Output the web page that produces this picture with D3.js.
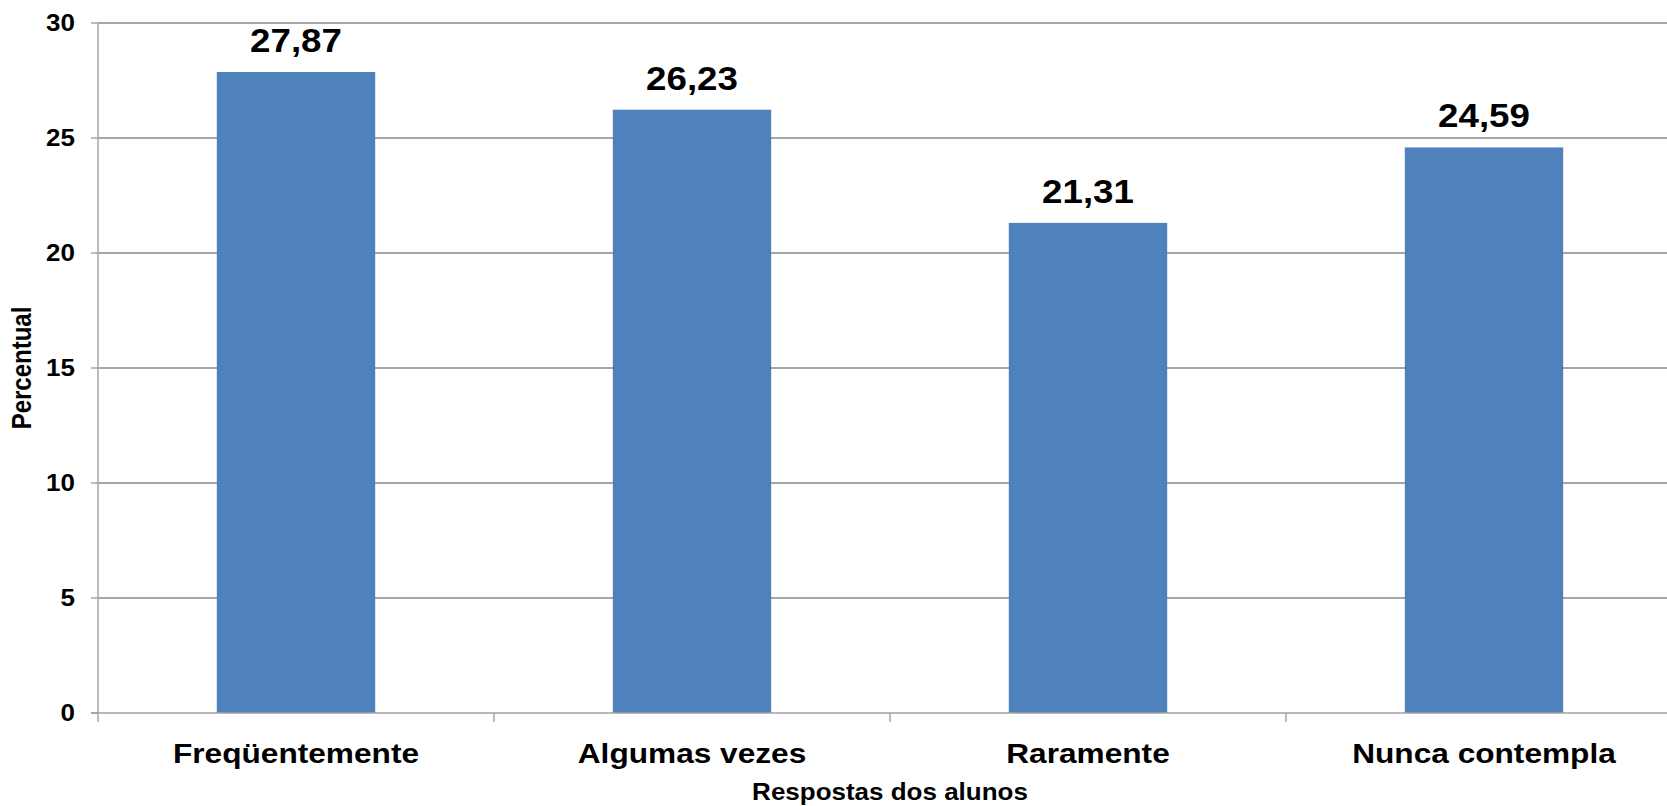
<!DOCTYPE html>
<html>
<head>
<meta charset="utf-8">
<script src="https://cdn.jsdelivr.net/npm/d3@7"></script>
<style>
  html, body { margin: 0; padding: 0; background: #fff; }
  svg { display: block; }
  text { font-family: "Liberation Sans", Arial, sans-serif; font-weight: bold; fill: #000; }
</style>
</head>
<body>
<svg id="chart" width="1667" height="806"></svg>
<script>
const categories = ["Freqüentemente", "Algumas vezes", "Raramente", "Nunca contempla"];
const values = [27.87, 26.23, 21.31, 24.59];
const yTicks = [0, 5, 10, 15, 20, 25, 30];
const yTitle = "Percentual";
const xTitle = "Respostas dos alunos";

(function () {
const pLeft = 98, pTop = 23, pBottom = 713, pRight = 1682;
const sx = 1.13; // horizontal stretch of text seen in reference

const svg = d3.select("#chart");
const x = d3.scaleBand().domain(categories).range([pLeft, pRight]).paddingInner(0.6).paddingOuter(0.3);
const y = d3.scaleLinear().domain([0, 30]).range([pBottom, pTop]);
const locale = d3.formatLocale({decimal: ",", thousands: ".", grouping: [3], currency: ["", ""]});
const fmt = locale.format(".2f");

// gridlines
svg.append("g").selectAll("line").data(yTicks.filter(d => d > 0)).join("line")
  .attr("x1", pLeft).attr("x2", pRight)
  .attr("y1", d => y(d)).attr("y2", d => y(d))
  .attr("stroke", "#8a8a8a").attr("stroke-width", 1.4);

// bars
svg.append("g").selectAll("rect").data(values).join("rect")
  .attr("x", (d, i) => x(categories[i]))
  .attr("width", x.bandwidth())
  .attr("y", d => y(d))
  .attr("height", d => y(0) - y(d))
  .attr("fill", "#4f81bd");

// y axis line & ticks
svg.append("line").attr("x1", pLeft).attr("x2", pLeft).attr("y1", pTop).attr("y2", pBottom)
  .attr("stroke", "#a0a0a0").attr("stroke-width", 1.4);
svg.append("g").selectAll("line").data(yTicks).join("line")
  .attr("x1", pLeft - 7).attr("x2", pLeft)
  .attr("y1", d => y(d)).attr("y2", d => y(d))
  .attr("stroke", "#a0a0a0").attr("stroke-width", 1.4);

// x axis line
svg.append("line").attr("x1", pLeft - 7).attr("x2", pRight).attr("y1", pBottom).attr("y2", pBottom)
  .attr("stroke", "#a0a0a0").attr("stroke-width", 1.4);
// x ticks at band boundaries
const step = x.step();
const bounds = categories.map(c => x(c) - (step - x.bandwidth()) / 2).concat([pRight]);
svg.append("g").selectAll("line").data(bounds).join("line")
  .attr("x1", d => d).attr("x2", d => d)
  .attr("y1", pBottom).attr("y2", pBottom + 9)
  .attr("stroke", "#a0a0a0").attr("stroke-width", 1.4);

// y tick labels
svg.append("g").selectAll("text").data(yTicks).join("text")
  .attr("transform", d => `translate(75,${y(d) + 8}) scale(${sx},1)`)
  .attr("text-anchor", "end")
  .style("font-size", "23px")
  .text(d => d);

// category labels
svg.append("g").selectAll("text").data(categories).join("text")
  .attr("transform", d => `translate(${x(d) + x.bandwidth() / 2},763) scale(${sx},1)`)
  .attr("text-anchor", "middle")
  .style("font-size", "28px")
  .text(d => d);

// value labels
svg.append("g").selectAll("text").data(values).join("text")
  .attr("transform", (d, i) => `translate(${x(categories[i]) + x.bandwidth() / 2},${y(d) - 20}) scale(${sx},1)`)
  .attr("text-anchor", "middle")
  .style("font-size", "32.5px")
  .text(d => fmt(d));

// axis titles
svg.append("text")
  .attr("transform", `translate(${(pLeft + pRight) / 2},800) scale(${sx},1)`)
  .attr("text-anchor", "middle")
  .style("font-size", "23px")
  .text(xTitle);

svg.append("text")
  .attr("transform", `translate(31,${(pTop + pBottom) / 2}) rotate(-90) scale(1,${sx})`)
  .attr("text-anchor", "middle")
  .style("font-size", "24px")
  .text(yTitle);
})();
</script>
</body>
</html>
